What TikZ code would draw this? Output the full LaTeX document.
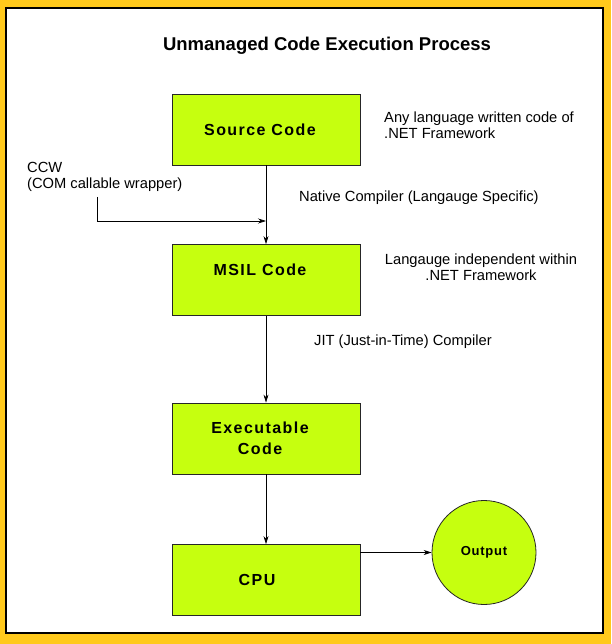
\documentclass[tikz,border=0pt]{standalone}
\usepackage{fontspec}
\setmainfont{Liberation Sans}
\newfontfamily\boxfont[LetterSpace=9]{Liberation Sans}
\newfontfamily\outfont[LetterSpace=6]{Liberation Sans}
\usetikzlibrary{arrows.meta}
\definecolor{frameyellow}{HTML}{FFC91C}
\definecolor{boxgreen}{HTML}{C6FF0F}
\begin{document}
\begin{tikzpicture}[x=1pt,y=-1pt,
  stepbox/.style={draw=black!85, fill=boxgreen, line width=0.8pt, minimum width=188pt, minimum height=71pt, inner sep=0pt, font=\boxfont\bfseries\fontsize{16}{21}\selectfont, align=center},
  outcircle/.style={circle, draw=black!85, fill=boxgreen, line width=0.8pt, minimum size=104pt, inner sep=0pt},
  lbl/.style={font=\fontsize{14.7}{16}\selectfont, inner sep=0pt},
  titlelbl/.style={font=\bfseries\fontsize{18.5}{20}\selectfont, inner sep=0pt},
  arr/.style={-{Stealth[length=8pt,width=5pt]}, line width=0.7pt}
]
\useasboundingbox (0,0) rectangle (611,644);
\fill[frameyellow] (0,0) rectangle (611,644);
\draw[fill=white, line width=1.2pt] (6,8) rectangle (603,633);

\node[titlelbl, anchor=base] (title) at (327,51) {Unmanaged Code Execution Process};

\node[stepbox] (src) at (266,129.5) {Source Code\hspace*{12pt}};
\node[stepbox] (msil) at (266,280) {\raisebox{20pt}{MSIL Code}\hspace*{12pt}};
\node[stepbox] (exe) at (266,438.5) {Executable\hspace*{12pt}\\Code\hspace*{12pt}};
\node[stepbox] (cpu) at (266,580) {CPU\hspace*{18pt}};
\node[outcircle] (out) at (484,552.5) {\outfont\bfseries\fontsize{13}{15}\selectfont Output};

\node[lbl, anchor=west, align=left] (anylang) at (384,125.5) {Any language written code of\\.NET Framework};
\node[lbl, anchor=west, align=left] (ccwlbl) at (27,176.5) {CCW\\(COM callable wrapper)};
\node[lbl, anchor=base west] (native) at (299,201) {Native Compiler (Langauge Specific)};
\node[lbl, align=center] (indep) at (481,267.5) {Langauge independent within\\.NET Framework};
\node[lbl, anchor=base west] (jit) at (314,345) {JIT (Just-in-Time) Compiler};

\coordinate (ccw) at (97,197);
\coordinate (join) at (266,221);

\draw[arr] (src) -- (msil);
\draw[arr] (ccw) |- (join);
\draw[arr] (msil) -- (exe);
\draw[arr] (exe) -- (cpu);
\draw[arr] (out.west -| cpu.east) -- (out.west);
\end{tikzpicture}
\end{document}
